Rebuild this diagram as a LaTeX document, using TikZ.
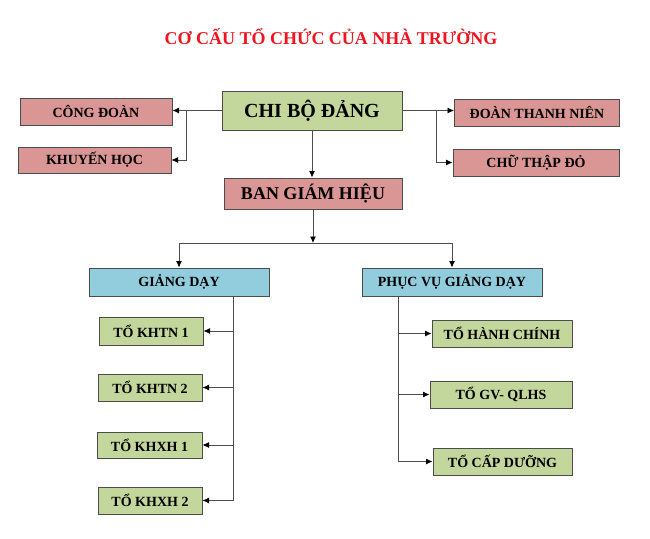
\documentclass[tikz,border=0pt]{standalone}
\usepackage{fontspec}
\setmainfont{Liberation Serif}
\definecolor{rosebox}{RGB}{217,150,148}
\definecolor{olivebox}{RGB}{195,214,155}
\definecolor{skybox}{RGB}{146,205,221}
\definecolor{titlered}{RGB}{240,20,30}
\usetikzlibrary{arrows.meta, positioning, calc}

\begin{document}
\begin{tikzpicture}[
    x=1pt, y=-1pt,
    unit/.style={draw=black!70, line width=1pt, fill=#1, inner sep=0pt,
                 minimum height=27pt,
                 font=\bfseries\fontsize{14}{16}\selectfont, align=center},
    arr/.style={-{Latex[length=6.5pt,width=6pt,color=black]}, draw=black!70,
                line width=0.8pt},
    trunk/.style={draw=black!70, line width=0.8pt}
  ]
  \useasboundingbox (0,0) rectangle (650,538);

  %% TITLE
  \node[font=\bfseries\fontsize{18}{20}\selectfont, text=titlered] (title)
    at (331,37) {CƠ CẤU TỔ CHỨC CỦA NHÀ TRƯỜNG};

  %% PARTY CELL AND ITS UNIONS
  \node[unit=olivebox, minimum width=180pt, minimum height=39pt,
        font=\bfseries\fontsize{20}{22}\selectfont] (chibo)
    at (312,110.5) {CHI BỘ ĐẢNG};
  \node[unit=rosebox, minimum width=152pt] (congdoan) at (96,111.5) {CÔNG ĐOÀN};
  \node[unit=rosebox, minimum width=153pt, minimum height=26pt] (khuyenhoc)
    at (94.5,160) {KHUYẾN HỌC};
  \node[unit=rosebox, minimum width=165pt] (doantn) at (537,112.5) {ĐOÀN THANH NIÊN};
  \node[unit=rosebox, minimum width=166pt] (chuthap) at (536,162.5) {CHỮ THẬP ĐỎ};

  %% BOARD
  \node[unit=rosebox, minimum width=178pt, minimum height=31pt,
        font=\bfseries\fontsize{18}{20}\selectfont] (bgh)
    at (313,193.5) {BAN GIÁM HIỆU};

  %% TWO BRANCHES
  \node[unit=skybox, minimum width=180pt, minimum height=28pt] (giangday)
    at (179,282) {GIẢNG DẠY};
  \node[unit=skybox, minimum width=180pt, minimum height=28pt] (phucvu)
    at (452,282) {PHỤC VỤ GIẢNG DẠY};

  %% TEACHING GROUPS
  \node[unit=olivebox, minimum width=104pt, minimum height=28pt] (khtn1)
    at (151,331) {TỔ KHTN 1};
  \node[unit=olivebox, minimum width=104pt] (khtn2) at (150,387.5) {TỔ KHTN 2};
  \node[unit=olivebox, minimum width=105pt, minimum height=26pt] (khxh1)
    at (149.5,445) {TỔ KHXH 1};
  \node[unit=olivebox, minimum width=104pt] (khxh2) at (150,500.5) {TỔ KHXH 2};

  %% SERVICE GROUPS
  \node[unit=olivebox, minimum width=140pt] (hanhchinh) at (502,333.5) {TỔ HÀNH CHÍNH};
  \node[unit=olivebox, minimum width=142pt] (gvqlhs) at (501,394.5) {TỔ GV- QLHS};
  \node[unit=olivebox, minimum width=139pt] (capduong) at (502.5,461.5) {TỔ CẤP DƯỠNG};

  %% JUNCTIONS
  \coordinate (lj) at (186,111);
  \coordinate (rj) at (436,111);
  \coordinate (mj) at (313,243);
  \coordinate (lt) at (233,296);
  \coordinate (rt) at (398,296);

  %% ARROWS
  \draw[arr] (chibo.west) -- (chibo.west -| congdoan.east);
  \draw[arr] (lj) |- (khuyenhoc.east);
  \draw[arr] (chibo.east) -- (chibo.east -| doantn.west);
  \draw[arr] (rj) |- (chuthap.west);
  \draw[arr] (chibo.south) -- (chibo.south |- bgh.north);
  \draw[arr] (bgh.south) -- (mj);
  \draw[arr] (mj) -| (giangday.north);
  \draw[arr] (mj) -| (phucvu.north);
  \draw[trunk] (lt) -- (lt |- khxh2);
  \foreach \n in {khtn1,khtn2,khxh1,khxh2}
    \draw[arr] (lt |- \n) -- (\n.east);
  \draw[trunk] (rt) -- (rt |- capduong);
  \foreach \n in {hanhchinh,gvqlhs,capduong}
    \draw[arr] (rt |- \n) -- (\n.west);
\end{tikzpicture}
\end{document}
